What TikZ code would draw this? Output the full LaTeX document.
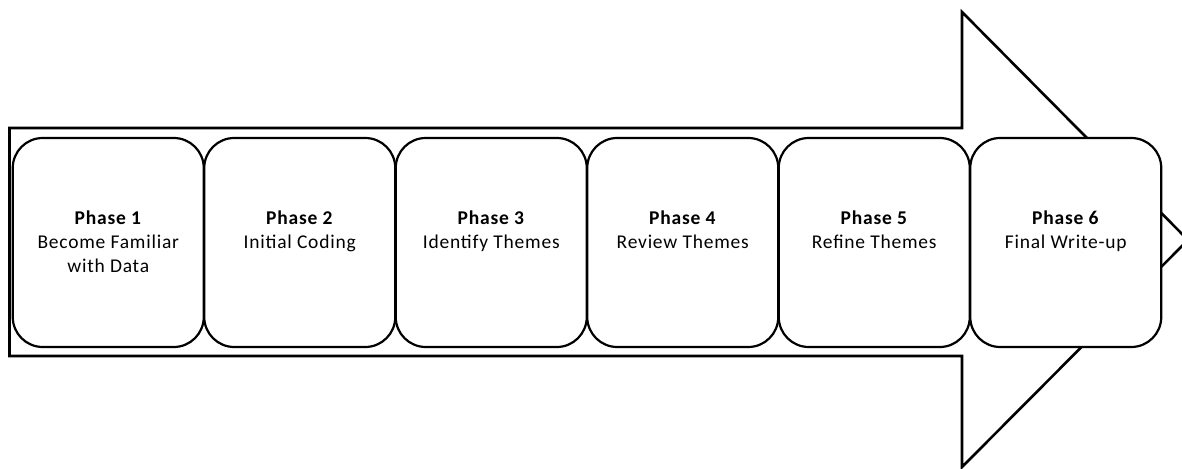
\documentclass[tikz,border=0pt]{standalone}
\usepackage{fontspec}
\setmainfont{Carlito}[LetterSpace=4]
\tikzset{
  bigarrow/.style={draw=black, line width=2.6pt, fill=white, line join=miter},
  phasebox/.style={draw=black, line width=2.2pt, fill=white, rounded corners=30pt,
    minimum width=191pt, minimum height=209pt, inner sep=0pt},
  phaselbl/.style={anchor=north, align=center, inner sep=0pt,
    font=\fontsize{19.5}{24}\selectfont}
}
\begin{document}
\begin{tikzpicture}[x=1pt,y=-1pt]
\useasboundingbox (0,0) rectangle (1182,468);
\draw[bigarrow] (9.5,128) -- (962,128) -- (962,12) -- (1188,240) -- (962,467) -- (962,356) -- (9.5,356) -- cycle;
\foreach \i/\t in {1/{Become Familiar\\with Data},2/{Initial Coding},3/{Identify Themes},4/{Review Themes},5/{Refine Themes},6/{Final Write-up}}{
  \node[phasebox] (p\i) at ({12.5+191.5*(\i-1)+95.75},242.5) {};
  \node[phaselbl] (t\i) at ([yshift=32pt]p\i.center) {\textbf{Phase \i}\\\t};
}
\end{tikzpicture}
\end{document}
